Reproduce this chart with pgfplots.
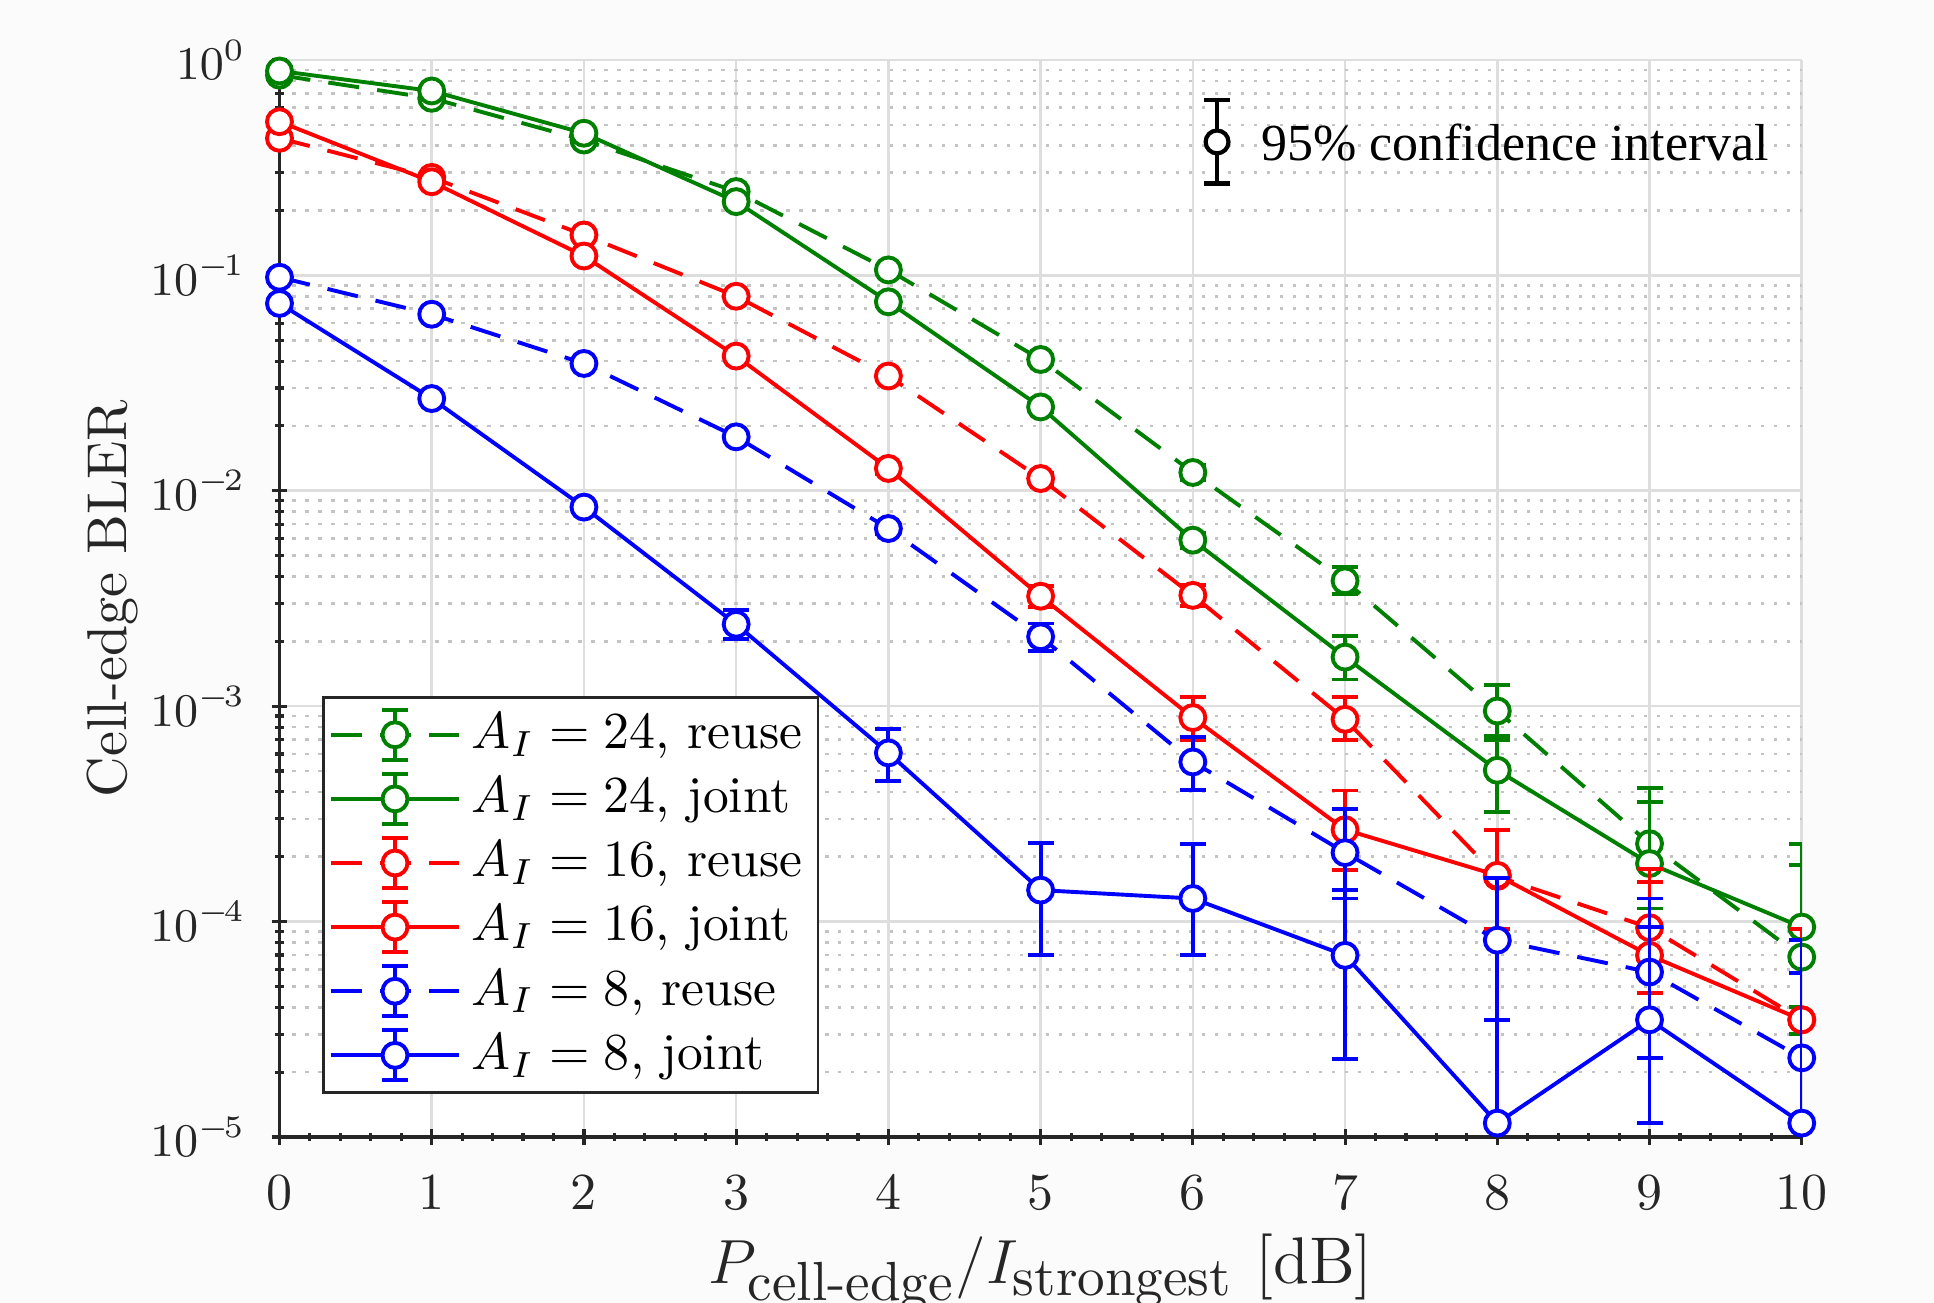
\documentclass[border=0pt]{standalone}
\usepackage{fontspec}
\usepackage{amsmath}
\usepackage{pgfplots}
\pgfplotsset{compat=1.18}
\newfontfamily\timesfont{Liberation Serif}
\definecolor{mgreen}{rgb}{0,0.5,0}
\definecolor{gridmaj}{RGB}{222,222,222}
\definecolor{gridmin}{RGB}{196,196,196}
\definecolor{axcol}{RGB}{38,38,38}
\pgfplotsset{
  reuse/.style={dash pattern=on 6pt off 3.5pt},
}
\newcommand{\sub}[1]{\text{\fontsize{10.6}{12}\selectfont #1}}

\begin{document}
\begin{tikzpicture}
\fill[black!1.5] (-53.76pt,-31.93pt) rectangle (318.24pt,218.70pt);
\begin{axis}[
  scale only axis, width=292.8pt, height=207.16pt,
  axis background/.style={fill=white},
  ymode=log, xmin=0, xmax=10, ymin=1e-5, ymax=1,
  xtick={0,1,...,10}, minor x tick num=4,
  ytick={1e-5,1e-4,1e-3,1e-2,1e-1,1},
  yticklabels={$10^{-\mkern-2mu5}$,$10^{-\mkern-2mu4}$,$10^{-\mkern-2mu3}$,$10^{-\mkern-2mu2}$,$10^{-\mkern-2mu1}$,$10^{0}$},
  axis lines=left,
  axis line style={-, draw=axcol, line width=0.6pt},
  tick style={axcol, line width=0.6pt},
  major tick length=3pt, minor tick length=1.6pt,
  tick label style={text=axcol},
  y tick label style={font=\fontsize{9.2}{11}\selectfont},
  xticklabel shift=2.5pt, yticklabel shift=1.5pt,
  grid=both, xminorgrids=false,
  major grid style={gridmaj, line width=0.5pt},
  minor grid style={gridmin, line width=0.5pt, dash pattern=on 0.6pt off 1.9pt},
  xlabel={$P_{\sub{cell-edge}}/I_{\sub{strongest}}$ [dB]},
  xlabel style={at={(axis description cs:0.5,-0.136)}, anchor=base, font=\fontsize{12.7}{15}\selectfont, text=axcol},
  ylabel={Cell-edge BLER},
  ylabel style={at={(axis description cs:-0.1094,0.5)}, anchor=center, font=\fontsize{10.8}{13}\selectfont, text=axcol},
  clip mode=individual,
  every axis plot/.append style={line width=0.75pt, mark=*, mark size=2.4pt, mark options={solid, fill=white, line width=0.75pt}},
  error bars/y dir=both, error bars/y explicit,
  error bars/error bar style={solid, line width=0.75pt},
  error bars/error mark options={solid, rotate=90, mark size=2.5pt, line width=0.75pt},
  legend cell align=left,
  legend style={at={(axis description cs:0.028,0.040)}, anchor=south west, draw=axcol, line width=0.5pt, fill=white, row sep=0pt, inner sep=1pt, font=\fontsize{9.9}{11.5}\selectfont},
  legend image code/.code={
    \draw[#1, mark=none] (0pt,0pt) -- (24.8pt,0pt);
    \draw[#1, solid, mark=none] (12.4pt,-4.8pt) -- (12.4pt,4.8pt);
    \draw[#1, solid, mark=none] (9.9pt,-4.8pt) -- (14.9pt,-4.8pt);
    \draw[#1, solid, mark=none] (9.9pt,4.8pt) -- (14.9pt,4.8pt);
    \draw[#1, only marks] plot coordinates {(12.4pt,0pt)};
  },
]
% A_I = 24, reuse
\addplot[mgreen, reuse] coordinates {
(0,0.85) +- (0,0.017)
(1,0.664) +- (0,0.013)
(2,0.425) +- (0,0.010)
(3,0.245) +- (0,0.007)
(4,0.106) +- (0,0.004)
(5,0.0407) +- (0,0.002)
(6,0.01216) +- (0,0.001)
(7,3.82e-3) += (0,0.61e-3) -= (0,0.51e-3)
(8,9.5e-4) += (0,3.1e-4) -= (0,2.2e-4)
(9,2.30e-4) += (0,1.87e-4) -= (0,1.02e-4)
(10,6.84e-5) += (0,1.146e-4) -= (0,0.384e-4)
};
\addlegendentry{$A_I = 24$, reuse}
% A_I = 24, joint
\addplot[mgreen] coordinates {
(0,0.889) +- (0,0.018)
(1,0.718) +- (0,0.014)
(2,0.457) +- (0,0.011)
(3,0.22) +- (0,0.007)
(4,0.0754) +- (0,0.003)
(5,0.0245) +- (0,0.0012)
(6,5.9e-3) +- (0,0.45e-3)
(7,1.69e-3) += (0,0.42e-3) -= (0,0.36e-3)
(8,5.04e-4) += (0,1.91e-4) -= (0,1.81e-4)
(9,1.86e-4) += (0,1.73e-4) -= (0,0.71e-4)
(10,9.43e-5) += (0,1.357e-4) -= (0,0.543e-4)
};
\addlegendentry{$A_I = 24$, joint}
% A_I = 16, reuse
\addplot[red, reuse] coordinates {
(0,0.433) +- (0,0.010)
(1,0.285) +- (0,0.007)
(2,0.154) +- (0,0.005)
(3,0.080) +- (0,0.003)
(4,0.0341) +- (0,0.0015)
(5,0.0114) +- (0,0.0007)
(6,3.27e-3) += (0,0.38e-3) -= (0,0.35e-3)
(7,8.69e-4) += (0,2.31e-4) -= (0,1.74e-4)
(8,1.62e-4) += (0,1.05e-4) -= (0,0.695e-4)
(9,9.37e-5) += (0,0.813e-4) -= (0,0.473e-4)
(10,3.5e-5) += (0,0.57e-4) -= (0,0.3e-4)
};
\addlegendentry{$A_I = 16$, reuse}
% A_I = 16, joint
\addplot[red] coordinates {
(0,0.517) +- (0,0.012)
(1,0.272) +- (0,0.007)
(2,0.123) +- (0,0.004)
(3,0.0422) +- (0,0.0015)
(4,0.0127) +- (0,0.0007)
(5,3.24e-3) += (0,0.36e-3) -= (0,0.34e-3)
(6,8.85e-4) += (0,2.15e-4) -= (0,1.85e-4)
(7,2.67e-4) += (0,1.39e-4) -= (0,0.93e-4)
(8,1.64e-4) += (0,1.03e-4) -= (0,0.715e-4)
(9,6.97e-5) += (0,0.823e-4) -= (0,0.464e-4)
(10,3.5e-5) += (0,0.57e-4) -= (0,0.3e-4)
};
\addlegendentry{$A_I = 16$, joint}
% A_I = 8, reuse
\addplot[blue, reuse] coordinates {
(0,0.098) +- (0,0.003)
(1,0.066) +- (0,0.002)
(2,0.039) +- (0,0.0013)
(3,0.0178) +- (0,0.0007)
(4,6.68e-3) +- (0,0.4e-3)
(5,2.1e-3) += (0,0.32e-3) -= (0,0.3e-3)
(6,5.51e-4) += (0,1.69e-4) -= (0,1.44e-4)
(7,2.09e-4) += (0,1.25e-4) -= (0,0.81e-4)
(8,8.2e-5) += (0,0.78e-4) -= (0,0.47e-4)
(9,5.83e-5) += (0,0.697e-4) -= (0,0.35e-4)
(10,2.33e-5) += (0,0.587e-4) -= (0,0.183e-4)
};
\addlegendentry{$A_I = 8$, reuse}
% A_I = 8, joint
\addplot[blue] coordinates {
(0,0.0741) +- (0,0.0025)
(1,0.0268) +- (0,0.0009)
(2,0.0084) +- (0,0.0004)
(3,2.4e-3) += (0,0.39e-3) -= (0,0.34e-3)
(4,6.07e-4) += (0,1.8e-4) -= (0,1.59e-4)
(5,1.40e-4) += (0,0.92e-4) -= (0,0.703e-4)
(6,1.28e-4) += (0,1.02e-4) -= (0,0.583e-4)
(7,6.97e-5) += (0,0.703e-4) -= (0,0.467e-4)
(8,1.16e-5) += (0,0.234e-4) -= (0,0.1e-4)
(9,3.5e-5) += (0,0.59e-4) -= (0,0.234e-4)
(10,1.16e-5) += (0,0.464e-4) -= (0,0.1e-4)
};
\addlegendentry{$A_I = 8$, joint}

% confidence-interval key
\draw[line width=0.8pt] ([yshift=-8pt]axis description cs:0.6159,0.9239) -- ([yshift=8pt]axis description cs:0.6159,0.9239);
\draw[line width=0.8pt] ([xshift=-2.45pt,yshift=8pt]axis description cs:0.6159,0.9239) -- ([xshift=2.45pt,yshift=8pt]axis description cs:0.6159,0.9239);
\draw[line width=0.8pt] ([xshift=-2.45pt,yshift=-8pt]axis description cs:0.6159,0.9239) -- ([xshift=2.45pt,yshift=-8pt]axis description cs:0.6159,0.9239);
\draw[line width=0.8pt, fill=white] (axis description cs:0.6159,0.9239) circle[radius=2.2pt];
\node[anchor=base west, inner sep=0pt, font=\timesfont] at (axis description cs:0.6441,0.9062) {95\% confidence interval};
\end{axis}
\pgfresetboundingbox
\path[use as bounding box] (-53.76pt,-31.93pt) rectangle (318.24pt,218.70pt);
\end{tikzpicture}
\end{document}
